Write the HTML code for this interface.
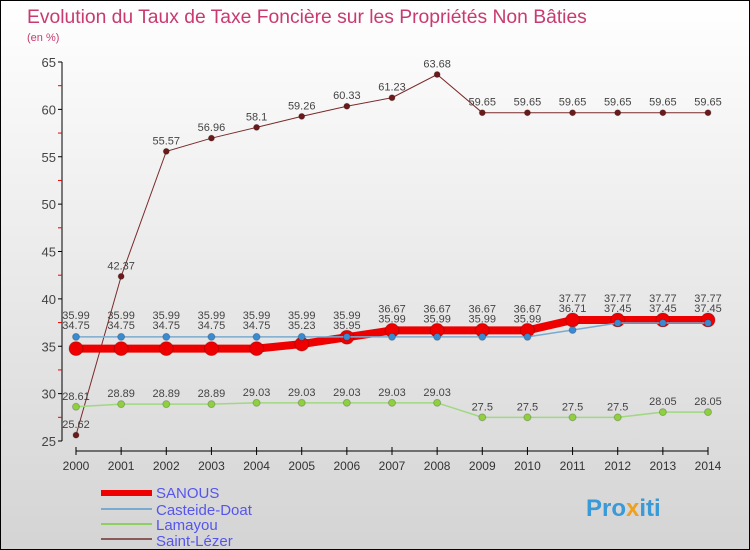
<!DOCTYPE html>
<html><head><meta charset="utf-8"><style>
body{margin:0}
#c{width:748px;height:548px;border:1px solid #000;background:linear-gradient(#fff,#d4d4d4);position:relative;font-family:"Liberation Sans",sans-serif}
</style></head><body>
<div id="c">
<svg id="s" width="748" height="548" style="position:absolute;left:0;top:0">
<text x="26" y="22" font-size="19.3" fill="#c83a70">Evolution du Taux de Taxe Foncière sur les Propriétés Non Bâties</text>
<text x="26" y="40" font-size="11" fill="#c83a70">(en %)</text>
<g id="g"></g>
<g>
<rect x="100" y="489" width="51" height="6" fill="#e00"/>
<text x="155" y="497" font-size="15" fill="#5555ee">SANOUS</text>
<rect x="100" y="507" width="51" height="2" fill="#7aaad0"/>
<text x="155" y="514" font-size="15" fill="#5555ee">Casteide-Doat</text>
<rect x="100" y="522" width="51" height="2" fill="#8ed060"/>
<text x="155" y="529" font-size="15" fill="#5555ee">Lamayou</text>
<rect x="100" y="537" width="51" height="2" fill="#8a5a5a"/>
<text x="155" y="545" font-size="15" fill="#5555ee">Saint-Lézer</text>
</g>
<text x="585" y="515" font-size="24" font-weight="bold" fill="#3a9ad8">Pro<tspan fill="#f0a020">x</tspan>iti</text>
</svg>
</div>
<script>
const years=[2000,2001,2002,2003,2004,2005,2006,2007,2008,2009,2010,2011,2012,2013,2014];
const yTicks=[25,30,35,40,45,50,55,60,65];
const sanous=[34.75,34.75,34.75,34.75,34.75,35.23,35.95,36.67,36.67,36.67,36.67,37.77,37.77,37.77,37.77];
const casteide=[35.99,35.99,35.99,35.99,35.99,35.99,35.99,35.99,35.99,35.99,35.99,36.71,37.45,37.45,37.45];
const lamayou=[28.61,28.89,28.89,28.89,29.03,29.03,29.03,29.03,29.03,27.5,27.5,27.5,27.5,28.05,28.05];
const saintLezer=[25.62,42.37,55.57,56.96,58.1,59.26,60.33,61.23,63.68,59.65,59.65,59.65,59.65,59.65,59.65];
const NS='http://www.w3.org/2000/svg',g=document.getElementById('g');
const X=i=>75+i*(632/(years.length-1)),Y=v=>440-(v-25)*9.475;
function el(t,a,name){const e=document.createElementNS(NS,t);for(const k in a)e.setAttribute(k,a[k]);


g.appendChild(e);return e;}
el('line',{x1:61,y1:Y(65),x2:61,y2:Y(25),stroke:'#000'},'y-axis');
el('line',{x1:X(0),y1:450,x2:X(14),y2:450,stroke:'#000'},'x-axis');
yTicks.forEach(v=>{el('line',{x1:57,x2:61,y1:Y(v),y2:Y(v),stroke:'#000'},'y-tick');
const t=el('text',{x:55,y:Y(v)+5,'font-size':13,fill:'#444','text-anchor':'end'},'y-tick-label');t.textContent=v;
if(v<65)el('line',{x1:57,x2:61,y1:Y(v+2.5),y2:Y(v+2.5),stroke:'#e00'},'y-minor-tick');});
years.forEach((yr,i)=>{el('line',{x1:X(i),x2:X(i),y1:446,y2:454,stroke:'#000'},'x-tick');
const t=el('text',{x:X(i),y:469,'font-size':12,fill:'#333','text-anchor':'middle'},'x-tick-label');t.textContent=yr;});
function series(d,col,w,r,dot,name,lab,off){
el('polyline',{points:d.map((v,i)=>X(i)+','+Y(v)).join(' '),fill:'none',stroke:col,'stroke-width':w},name+'-line');
d.forEach((v,i)=>{el('circle',{cx:X(i),cy:Y(v),r:r,fill:dot,stroke:'#0003'},name+'-point');
if(lab){const t=el('text',{x:X(i),y:Y(v)+off,'font-size':11,fill:'#444','text-anchor':'middle'},name+'-value-label');t.textContent=v;}});}
series(saintLezer,'#7a2a2a',1,3,'#6a1a1a','saint-lezer',1,-7);
series(lamayou,'#a0d880',1.5,3.5,'#8ed040','lamayou',1,-7);
series(sanous,'#e00',8,7,'#e00','sanous',0,0);
series(casteide,'#7aaad0',1.5,3.5,'#3a8ad0','casteide',0,0);
sanous.forEach((v,i)=>{const top=Y(Math.max(v,casteide[i]));const t=el('text',{x:X(i),y:top-(v>=casteide[i]?18:8),'font-size':11,fill:'#444','text-anchor':'middle'},'sanous-value-label');t.textContent=v;});
casteide.forEach((v,i)=>{const top=Y(Math.max(v,sanous[i]));const t=el('text',{x:X(i),y:top-(v>sanous[i]?18:8),'font-size':11,fill:'#444','text-anchor':'middle'},'casteide-value-label');t.textContent=v;});
</script>
</body></html>
